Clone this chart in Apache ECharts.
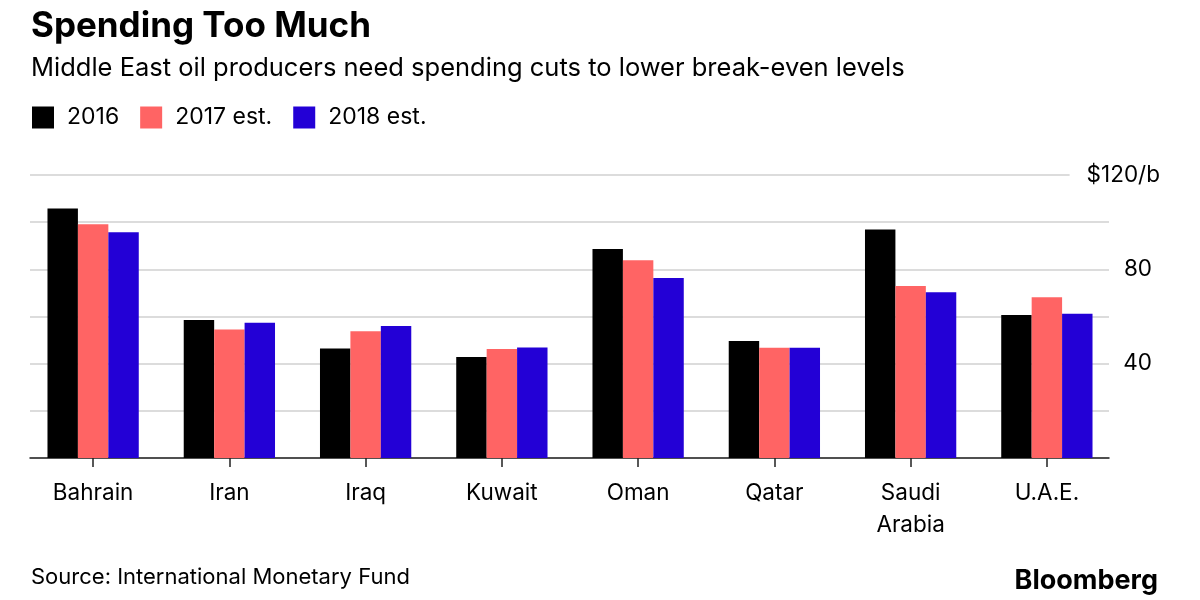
<!DOCTYPE html>
<html>
<head>
<meta charset="utf-8">
<script src="https://cdn.jsdelivr.net/npm/echarts@6/dist/echarts.min.js"></script>
<style>html,body{margin:0;padding:0;background:#fff}#c{width:1200px;height:600px}</style>
</head>
<body>
<div id="c"></div>
<script>
const categories = ['Bahrain', 'Iran', 'Iraq', 'Kuwait', 'Oman', 'Qatar', 'Saudi\nArabia', 'U.A.E.'];
const seriesNames = ['2016', '2017 est.', '2018 est.'];
const values2016 = [105.8, 58.5, 46.4, 42.8, 88.6, 49.6, 96.9, 60.6];
const values2017 = [99.1, 54.5, 53.7, 46.2, 83.8, 46.8, 72.9, 68.2];
const values2018 = [95.7, 57.3, 56.0, 46.9, 76.3, 46.8, 70.3, 61.2];
const yTicks = [0, 20, 40, 60, 80, 100, 120];
const yLabels = { 40: '40', 80: '80', 120: '$120/b' };

const FONT = 'Inter, "Liberation Sans", sans-serif';
const colors = ['#000000', '#ff6464', '#2300d6'];
const seriesValues = [values2016, values2017, values2018];

const chart = echarts.init(document.getElementById('c'), null, { renderer: 'canvas' });
chart.setOption({
  animation: false,
  textStyle: { fontFamily: FONT, color: '#000' },
  title: [
    { text: 'Spending Too Much', left: 26, top: 0,
      textStyle: { fontFamily: FONT, fontSize: 35, fontWeight: 'bold', color: '#000', lineHeight: 42 } },
    { text: 'Middle East oil producers need spending cuts to lower break-even levels', left: 26, top: 47,
      textStyle: { fontFamily: FONT, fontSize: 25.5, fontWeight: 'normal', color: '#000', lineHeight: 32 } },
    { text: 'Source: International Monetary Fund', left: 26, top: 557,
      textStyle: { fontFamily: FONT, fontSize: 22, fontWeight: 'normal', color: '#000', lineHeight: 30 } },
    { text: 'Bloomberg', right: 37, top: 559,
      textStyle: { fontFamily: FONT, fontSize: 27, fontWeight: 'bold', color: '#000', lineHeight: 34 } }
  ],
  legend: {
    left: 27, top: 101, itemWidth: 22, itemHeight: 22, itemGap: 21, icon: 'rect',
    data: seriesNames,
    textStyle: { fontFamily: FONT, fontSize: 23, color: '#000', padding: [0, 0, 0, 8] }
  },
  grid: [
    { left: 25, right: 85, top: 175, bottom: 142, containLabel: false },
    { left: 30, right: 91, top: 175, bottom: 142, containLabel: false }
  ],
  xAxis: [
    { type: 'category', gridIndex: 0, data: categories,
      axisLine: { show: false },
      axisTick: { show: true, alignWithLabel: true, length: 9, lineStyle: { color: '#222', width: 1.5 } },
      axisLabel: { fontFamily: FONT, fontSize: 22.5, color: '#000', margin: 19, lineHeight: 32, interval: 0 } },
    { type: 'value', gridIndex: 1, min: 0, max: 1, show: true,
      axisLine: { show: true, onZero: false, lineStyle: { color: '#222', width: 1.5 } },
      axisTick: { show: false }, axisLabel: { show: false }, splitLine: { show: false } }
  ],
  yAxis: [
    { type: 'value', gridIndex: 0, min: 0, max: 120, interval: 20, show: false },
    { type: 'value', gridIndex: 1, position: 'right', min: yTicks[0], max: yTicks[yTicks.length - 1], interval: 20,
      axisLine: { show: false }, axisTick: { show: false },
      splitLine: { show: true, lineStyle: { color: '#dcdcdc', width: 2 } },
      axisLabel: {
        show: true, align: 'right', margin: 51, fontFamily: FONT, fontSize: 22.5, color: '#000',
        formatter: function (v) {
          const t = yLabels[v];
          if (!t) return '';
          return v === 120 ? '{top|' + t + '}' : '{n|' + t + '}';
        },
        rich: {
          top: { fontFamily: FONT, fontSize: 22.5, color: '#000', backgroundColor: '#fff', padding: [4, 0, 4, 17] },
          n: { fontFamily: FONT, fontSize: 22.5, color: '#000', padding: [0, 8, 0, 0] }
        }
      } }
  ],
  series: seriesNames.map((name, i) => ({
    name: name, type: 'bar', xAxisIndex: 0, yAxisIndex: 0,
    data: seriesValues[i],
    barGap: '0%', barCategoryGap: '33%',
    itemStyle: { color: colors[i] }
  }))
});
</script>
</body>
</html>
